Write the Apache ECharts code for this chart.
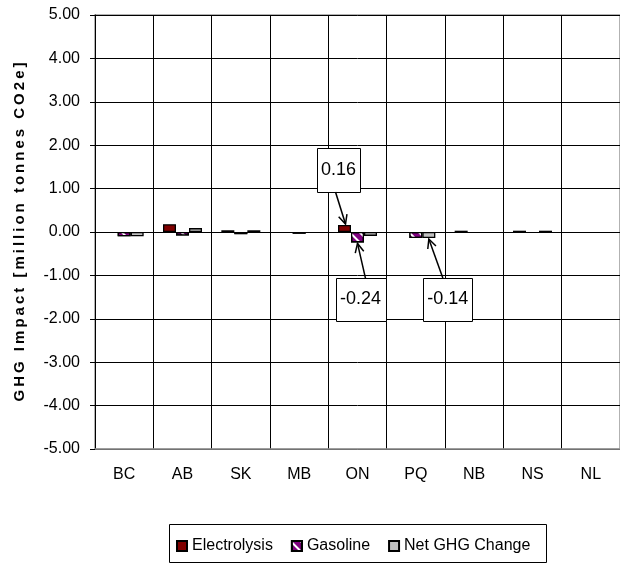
<!DOCTYPE html>
<html><head><meta charset="utf-8">
<script src="https://cdn.jsdelivr.net/npm/echarts@6/dist/echarts.min.js"></script>
<style>html,body{margin:0;padding:0;background:#fff}#c{width:620px;height:564px}</style>
</head><body><div id="c"></div>
<script>
const categories = ['BC','AB','SK','MB','ON','PQ','NB','NS','NL'];
const electrolysis = [0, 0.18, 0.04, 0, 0.16, 0, 0.03, 0.03, 0];
const gasoline = [-0.1, -0.08, -0.05, -0.04, -0.24, -0.14, 0, 0, 0];
const netChange = [-0.1, 0.09, 0.04, 0, -0.09, -0.14, 0, 0.03, 0];
const seriesNames = ['Electrolysis', 'Gasoline', 'Net GHG Change'];
const yAxisName = 'GHG Impact [million tonnes CO2e]';

// callouts
const annoText = ['0.16', '-0.24', '-0.14'];
const annoCat = [4, 4, 5];
const annoSeries = [0, 1, 2];
const annoValue = [0.16, -0.24, -0.14];

const FONT = 'Liberation Sans, Arial, sans-serif';
const BAR_W = 13;
const chart = echarts.init(document.getElementById('c'), null, {renderer: 'canvas'});

const decal = {
  symbol: 'rect', symbolSize: 1, color: '#ffffff',
  dashArrayX: [1, 0], dashArrayY: [2, 5], rotation: Math.PI / 4
};
const noZero = arr => arr.map(v => (v === 0 ? null : v));
const spaced = s => s.split('').join('\u2009');

const mk = (name, data, style) => ({
  name, type: 'bar', data: noZero(data), barWidth: BAR_W, barGap: '0%',
  itemStyle: Object.assign({borderColor: '#000', borderWidth: 1.3}, style),
  emphasis: {disabled: true}
});

chart.setOption({
  animation: false,
  textStyle: {fontFamily: FONT},
  grid: {left: 95, right: -2, top: 15, bottom: 115, show: true, borderColor: '#999', borderWidth: 1.5},
  legend: {
    left: 171, top: 533, itemWidth: 10, itemHeight: 10, itemGap: 18, icon: 'rect',
    textStyle: {fontSize: 16, color: '#000', fontFamily: FONT},
    data: seriesNames
  },
  xAxis: {
    type: 'category', data: categories,
    axisLine: {onZero: false, lineStyle: {color: '#999', width: 1.5}},
    axisTick: {show: false},
    axisLabel: {color: '#000', fontSize: 16, margin: 18, fontFamily: FONT},
    splitLine: {show: true, lineStyle: {color: '#000', width: 1}}
  },
  yAxis: {
    type: 'value', min: -5, max: 5, interval: 1,
    name: spaced(yAxisName), nameLocation: 'middle', nameGap: 68,
    nameTextStyle: {fontSize: 15, fontWeight: 'bold', color: '#000', fontFamily: FONT},
    axisLine: {show: true, lineStyle: {color: '#000'}},
    axisTick: {show: true, length: 5, lineStyle: {color: '#000'}},
    axisLabel: {color: '#000', fontSize: 16, margin: 15, fontFamily: FONT,
      formatter: v => v.toFixed(2)},
    splitLine: {show: true, lineStyle: {color: '#000', width: 1}}
  },
  series: [
    mk(seriesNames[0], electrolysis, {color: '#800000'}),
    mk(seriesNames[1], gasoline, {color: '#800080', decal}),
    mk(seriesNames[2], netChange, {color: '#c0c0c0'})
  ],
  aria: {enabled: false}
});

// layout of the callout boxes relative to the bar end they point at
const boxLayout = [
  {dx: -6, dy: -55, w: 43, h: 44, ax: -9, ay: -33},
  {dx: 3, dy: 57, w: 50, h: 43, ax: 8, ay: 36},
  {dx: 19, dy: 61, w: 49, h: 43, ax: 14, ay: 40}
];
const graphics = [];
// legend box
graphics.push({type: 'rect', shape: {x: 169.5, y: 524.5, width: 377, height: 38},
  style: {fill: 'none', stroke: '#000', lineWidth: 1}, z: 100});
annoText.forEach((t, i) => {
  const p = chart.convertToPixel({seriesIndex: annoSeries[i]}, [annoCat[i], annoValue[i]]);
  const bx = p[0] + (annoSeries[i] - 1) * BAR_W; // bar centre
  const by = p[1];
  const L = boxLayout[i];
  const cx = bx + L.dx, cy = by + L.dy;
  const x0 = Math.round(cx - L.w / 2) + 0.5, y0 = Math.round(cy - L.h / 2) + 0.5;
  graphics.push({type: 'rect', shape: {x: x0, y: y0, width: L.w, height: L.h},
    style: {fill: '#fff', stroke: '#000', lineWidth: 1}, z: 100});
  graphics.push({type: 'text', x: cx, y: cy,
    style: {text: t, fontSize: 18, fontFamily: FONT, fill: '#000', align: 'center', verticalAlign: 'middle'}, z: 101});
  // arrow
  const sx = bx + L.ax, sy = by + L.ay;
  const tx = bx + (i === 0 ? 1 : 0), ty = by + (annoValue[i] > 0 ? -1 : 1);
  const ang = Math.atan2(ty - sy, tx - sx);
  const hl = 10, ha = 0.45;
  graphics.push({type: 'polyline', shape: {points: [[sx, sy], [tx, ty]]},
    style: {stroke: '#000', lineWidth: 1.5, fill: 'none'}, z: 101});
  graphics.push({type: 'polyline', shape: {points: [
    [tx - hl * Math.cos(ang - ha), ty - hl * Math.sin(ang - ha)], [tx, ty],
    [tx - hl * Math.cos(ang + ha), ty - hl * Math.sin(ang + ha)]]},
    style: {stroke: '#000', lineWidth: 1.5, fill: 'none'}, z: 101});
});
chart.setOption({graphic: graphics});
</script>
</body></html>
